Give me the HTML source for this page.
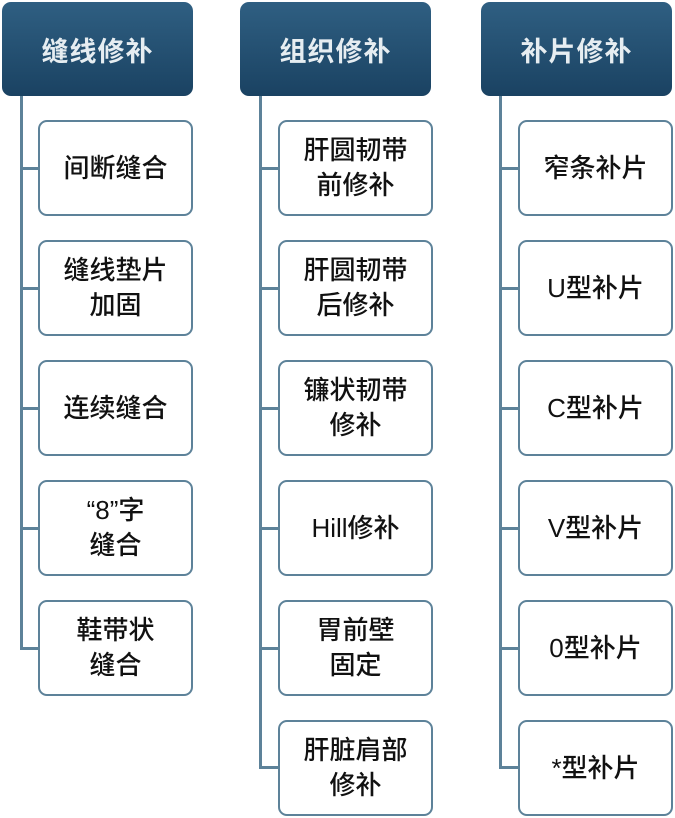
<!DOCTYPE html>
<html><head><meta charset="utf-8"><style>
body{margin:0;width:675px;height:818px;background:#fff;position:relative;overflow:hidden;font-family:"Liberation Sans","Noto Sans CJK SC",sans-serif}
.h{position:absolute;top:2px;width:191px;height:94px;border-radius:9px;background:linear-gradient(#2f5f82,#1a4262);color:#e6edf1;font-size:27px;font-weight:bold;display:flex;align-items:center;justify-content:center;letter-spacing:1px}
.b{position:absolute;width:151px;height:92px;border:2px solid #5d8299;border-radius:9px;background:#fff;color:#111;font-size:26px;font-weight:500;line-height:35px;display:flex;align-items:center;justify-content:center;text-align:center;box-sizing:content-box}
.v{position:absolute;width:3px;background:#5d8299}
.c{position:absolute;height:3px;background:#5d8299}
</style></head><body>
<div class="h" style="left:2px">缝线修补</div>
<div class="h" style="left:240px">组织修补</div>
<div class="h" style="left:481px">补片修补</div>

<div class="v" style="left:20px;top:96px;height:553px"></div>
<div class="v" style="left:259px;top:96px;height:672px"></div>
<div class="v" style="left:499px;top:96px;height:672px"></div>

<div class="c" style="left:20px;top:167px;width:20px"></div>
<div class="c" style="left:20px;top:287px;width:20px"></div>
<div class="c" style="left:20px;top:407px;width:20px"></div>
<div class="c" style="left:20px;top:527px;width:20px"></div>
<div class="c" style="left:20px;top:647px;width:20px"></div>
<div class="b" style="left:38px;top:120px">间断缝合</div>
<div class="b" style="left:38px;top:240px">缝线垫片<br>加固</div>
<div class="b" style="left:38px;top:360px">连续缝合</div>
<div class="b" style="left:38px;top:480px">“8”字<br>缝合</div>
<div class="b" style="left:38px;top:600px">鞋带状<br>缝合</div>

<div class="c" style="left:259px;top:167px;width:20px"></div>
<div class="c" style="left:259px;top:287px;width:20px"></div>
<div class="c" style="left:259px;top:407px;width:20px"></div>
<div class="c" style="left:259px;top:527px;width:20px"></div>
<div class="c" style="left:259px;top:647px;width:20px"></div>
<div class="c" style="left:259px;top:766px;width:20px"></div>
<div class="b" style="left:278px;top:120px">肝圆韧带<br>前修补</div>
<div class="b" style="left:278px;top:240px">肝圆韧带<br>后修补</div>
<div class="b" style="left:278px;top:360px">镰状韧带<br>修补</div>
<div class="b" style="left:278px;top:480px">Hill修补</div>
<div class="b" style="left:278px;top:600px">胃前壁<br>固定</div>
<div class="b" style="left:278px;top:720px">肝脏肩部<br>修补</div>

<div class="c" style="left:499px;top:167px;width:20px"></div>
<div class="c" style="left:499px;top:287px;width:20px"></div>
<div class="c" style="left:499px;top:407px;width:20px"></div>
<div class="c" style="left:499px;top:527px;width:20px"></div>
<div class="c" style="left:499px;top:647px;width:20px"></div>
<div class="c" style="left:499px;top:766px;width:20px"></div>
<div class="b" style="left:518px;top:120px">窄条补片</div>
<div class="b" style="left:518px;top:240px">U型补片</div>
<div class="b" style="left:518px;top:360px">C型补片</div>
<div class="b" style="left:518px;top:480px">V型补片</div>
<div class="b" style="left:518px;top:600px">0型补片</div>
<div class="b" style="left:518px;top:720px">*型补片</div>
</body></html>
